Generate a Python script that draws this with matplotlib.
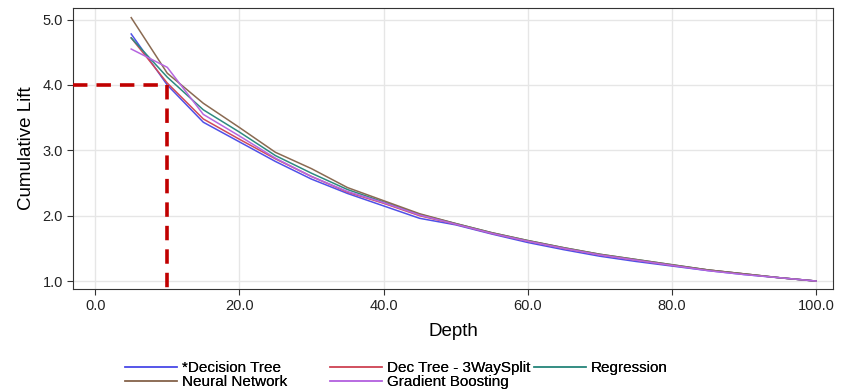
import matplotlib.pyplot as plt

plt.rcParams['font.family'] = ['Liberation Sans', 'DejaVu Sans']

depth = [5, 10, 15, 20, 25, 30, 35, 40, 45, 50, 55, 60, 65, 70, 75, 80, 85, 90, 95, 100]

decision_tree = [4.78, 4.00, 3.43, 3.13, 2.83, 2.56, 2.34, 2.15, 1.96, 1.86, 1.72, 1.59, 1.48, 1.38,
                 1.30, 1.23, 1.16, 1.10, 1.05, 1.00]
dec_tree_3way = [4.72, 4.03, 3.48, 3.17, 2.87, 2.60, 2.36, 2.19, 2.00, 1.87, 1.73, 1.61, 1.50, 1.40,
                 1.32, 1.24, 1.17, 1.11, 1.05, 1.00]
regression = [4.72, 4.12, 3.62, 3.28, 2.92, 2.65, 2.40, 2.21, 2.02, 1.88, 1.74, 1.62, 1.51, 1.41,
              1.33, 1.25, 1.17, 1.11, 1.05, 1.00]
neural_network = [5.03, 4.18, 3.72, 3.35, 2.97, 2.72, 2.43, 2.23, 2.03, 1.88, 1.74, 1.62, 1.51, 1.41,
                  1.33, 1.25, 1.17, 1.11, 1.05, 1.00]
gradient_boosting = [4.55, 4.27, 3.55, 3.22, 2.88, 2.60, 2.37, 2.20, 2.01, 1.87, 1.73, 1.61, 1.50, 1.40,
                     1.32, 1.24, 1.16, 1.10, 1.05, 1.00]

cutoff_depth = 10
cutoff_lift = 4.0

fig = plt.figure(figsize=(8.41, 3.92), dpi=100)
ax = fig.add_axes([0.087, 0.263, 0.904, 0.717])

h_dt, = ax.plot(depth, decision_tree, color='#5050e8', lw=1.1, label='*Decision Tree')
h_dt3, = ax.plot(depth, dec_tree_3way, color='#d04a5a', lw=1.1, label='Dec Tree - 3WaySplit')
h_reg, = ax.plot(depth, regression, color='#2e8a80', lw=1.1, label='Regression')
h_nn, = ax.plot(depth, neural_network, color='#8a6a52', lw=1.1, label='Neural Network')
h_gb, = ax.plot(depth, gradient_boosting, color='#b666e0', lw=1.1, label='Gradient Boosting')

# reference lines at the chosen cut-off
ax.plot([-3.05, cutoff_depth], [cutoff_lift, cutoff_lift], color='#c00000', lw=2.6,
        ls=(0, (4, 2.5)), zorder=5)
ax.plot([cutoff_depth, cutoff_depth], [cutoff_lift, 0.88], color='#c00000', lw=2.6,
        ls=(0, (4, 2.5)), zorder=5)

ax.set_xlim(-3.05, 102.4)
ax.set_ylim(0.88, 5.18)
ax.set_xticks([0, 20, 40, 60, 80, 100])
ax.set_yticks([1, 2, 3, 4, 5])
ax.set_xticklabels([f'{v:.1f}' for v in [0, 20, 40, 60, 80, 100]])
ax.set_yticklabels([f'{v:.1f}' for v in [1, 2, 3, 4, 5]])
ax.tick_params(labelsize=10.5, color='#333333', length=4, labelcolor='#222222')
ax.grid(color='#e6e6e6', lw=1)
ax.set_axisbelow(True)
for s in ax.spines.values():
    s.set_color('#333333')

ax.set_xlabel('Depth', fontsize=13.5, labelpad=7)
ax.set_ylabel('Cumulative Lift', fontsize=13.5, labelpad=5)

# legend laid out as three fixed-width columns below the plot
columns = [([h_dt, h_nn], 0.1486), ([h_dt3, h_gb], 0.3924), ([h_reg], 0.635)]
for handles, x0 in columns:
    leg = fig.legend(handles=handles, frameon=False, loc='upper left',
                     bbox_to_anchor=(x0, 0.078), borderpad=0, borderaxespad=0,
                     fontsize=11, handlelength=3.4, handletextpad=0.3, labelspacing=0.0)
    fig.add_artist(leg)

fig.savefig('out.png', dpi=100)
